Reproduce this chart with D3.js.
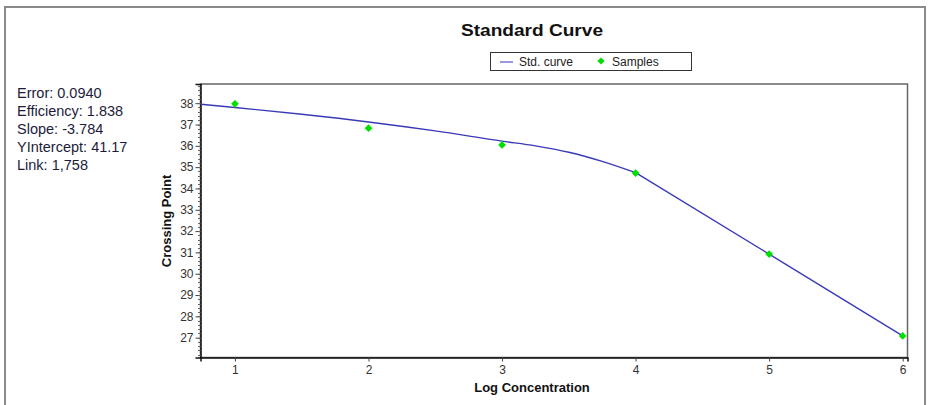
<!DOCTYPE html>
<html>
<head>
<meta charset="utf-8">
<script src="https://cdn.jsdelivr.net/npm/d3@7"></script>
<style>
  html, body { margin: 0; padding: 0; background: #fff; }
  svg { display: block; }
  .narrow { font-family: "Liberation Sans Narrow", "Arial Narrow", "Liberation Sans", Arial, sans-serif; }
</style>
</head>
<body>
<svg id="chart" width="928" height="405"></svg>
<script>
// ---- data ----
const sampleX = [1, 2, 3, 4, 5, 6];
const sampleY = [37.97, 36.83, 36.04, 34.72, 30.92, 27.08];
const curveX = [0.745, 1, 1.5, 2, 2.5, 3, 3.25, 3.5, 3.75, 4];
const curveY = [37.95, 37.80, 37.48, 37.12, 36.70, 36.22, 36.00, 35.70, 35.27, 34.74];
const lineX = [4, 5, 6];
const lineY = [34.74, 30.92, 27.08];
const xTicks = [1, 2, 3, 4, 5, 6];
const yTicks = [27, 28, 29, 30, 31, 32, 33, 34, 35, 36, 37, 38];
const statsLines = ["Error: 0.0940", "Efficiency: 1.838", "Slope: -3.784", "YIntercept: 41.17", "Link: 1,758"];
const legendLabels = ["Std. curve", "Samples"];

const svg = d3.select("#chart");

// outer frame
svg.append("rect").attr("x", 5).attr("y", 7).attr("width", 920).attr("height", 410)
  .attr("fill", "none").attr("stroke", "#8a8a8a").attr("stroke-width", 2);

const plot = {left: 200.5, right: 907.5, top: 84, bottom: 357.5};
const x = d3.scaleLinear().domain([0.742, 6.036]).range([plot.left, plot.right]);
const y = d3.scaleLinear().domain([26.07, 38.9]).range([plot.bottom, plot.top]);

// title
svg.append("text").attr("class", "narrow").attr("x", 532).attr("y", 36)
  .attr("text-anchor", "middle").attr("font-size", 17).attr("font-weight", "bold")
  .attr("textLength", 142).attr("lengthAdjust", "spacingAndGlyphs")
  .attr("fill", "#111").text("Standard Curve");

const diamond = d3.symbol(d3.symbolSquare, 26);

// legend
const lg = svg.append("g");
lg.append("rect").attr("x", 490.5).attr("y", 52.5).attr("width", 201).attr("height", 18)
  .attr("fill", "#fff").attr("stroke", "#333").attr("stroke-width", 1);
lg.append("line").attr("x1", 500).attr("x2", 513).attr("y1", 62).attr("y2", 62)
  .attr("stroke", "#5555cc").attr("stroke-width", 1.2);
lg.append("text").attr("class", "narrow").attr("x", 519).attr("y", 66).attr("font-size", 12)
  .attr("fill", "#222").text(legendLabels[0]);
lg.append("path").attr("d", diamond())
  .attr("transform", "translate(601,61) rotate(45)").attr("fill", "#00dd00");
lg.append("text").attr("class", "narrow").attr("x", 612).attr("y", 66).attr("font-size", 12)
  .attr("fill", "#222").text(legendLabels[1]);

// stats text
svg.append("g").selectAll("text").data(statsLines).join("text")
  .attr("x", 17).attr("y", (d, i) => 98 + i * 18)
  .attr("font-family", "Liberation Sans, Arial, sans-serif").attr("font-size", 14.5)
  .attr("fill", "#1c1c3a").text(d => d);

// plot frame (top/right)
svg.append("rect").attr("x", plot.left).attr("y", plot.top)
  .attr("width", plot.right - plot.left).attr("height", plot.bottom - plot.top)
  .attr("fill", "none").attr("stroke", "#666").attr("stroke-width", 1.5);

// y axis
const yAxis = svg.append("g").attr("transform", `translate(${plot.left},0)`)
  .call(d3.axisLeft(y).tickValues(yTicks).tickSize(5).tickPadding(2).tickFormat(d3.format("d")));
yAxis.select(".domain").attr("stroke", "#111").attr("stroke-width", 1.5);
yAxis.selectAll(".tick line").attr("stroke", "#444");
yAxis.selectAll(".tick text").attr("class", "narrow").attr("font-size", 12).attr("fill", "#333");
// minor ticks
svg.append("g").selectAll("line").data(d3.range(26.2, 38.85, 0.2))
  .join("line").attr("x1", plot.left - 2.5).attr("x2", plot.left)
  .attr("y1", d => Math.round(y(d)) + 0.5).attr("y2", d => Math.round(y(d)) + 0.5)
  .attr("stroke", "#666").attr("stroke-width", 1);

// x axis
const xAxis = svg.append("g").attr("transform", `translate(0,${plot.bottom})`)
  .call(d3.axisBottom(x).tickValues(xTicks).tickSize(4).tickPadding(4).tickFormat(d3.format("d")));
xAxis.select(".domain").attr("stroke", "#111").attr("stroke-width", 1.5);
xAxis.selectAll(".tick line").attr("stroke", "#444");
xAxis.selectAll(".tick text").attr("class", "narrow").attr("font-size", 12).attr("fill", "#333");

// axis titles
svg.append("text").attr("class", "narrow").attr("x", 532).attr("y", 392)
  .attr("text-anchor", "middle").attr("font-size", 13).attr("font-weight", "bold")
  .attr("fill", "#111").text("Log Concentration");
svg.append("text").attr("class", "narrow")
  .attr("transform", `translate(171,221) rotate(-90)`)
  .attr("text-anchor", "middle").attr("font-size", 13).attr("font-weight", "bold")
  .attr("fill", "#111").text("Crossing Point");

// curve: smooth part then straight part
const lineGen = d3.line().x(d => x(d[0])).y(d => y(d[1]));
svg.append("path").datum(curveX.map((d, i) => [d, curveY[i]]))
  .attr("fill", "none").attr("stroke", "#3a3ab8").attr("stroke-width", 1.4)
  .attr("d", lineGen.curve(d3.curveMonotoneX));
svg.append("path").datum(lineX.map((d, i) => [d, lineY[i]]))
  .attr("fill", "none").attr("stroke", "#3a3ab8").attr("stroke-width", 1.4)
  .attr("d", d3.line().x(d => x(d[0])).y(d => y(d[1])));

// samples
const samples = sampleX.map((d, i) => [d, sampleY[i]]);
svg.append("g").selectAll("path").data(samples).join("path")
  .attr("d", d3.symbol(d3.symbolSquare, 30)())
  .attr("transform", d => `translate(${x(d[0])},${y(d[1])}) rotate(45)`)
  .attr("fill", "#00e000");
</script>
</body>
</html>
